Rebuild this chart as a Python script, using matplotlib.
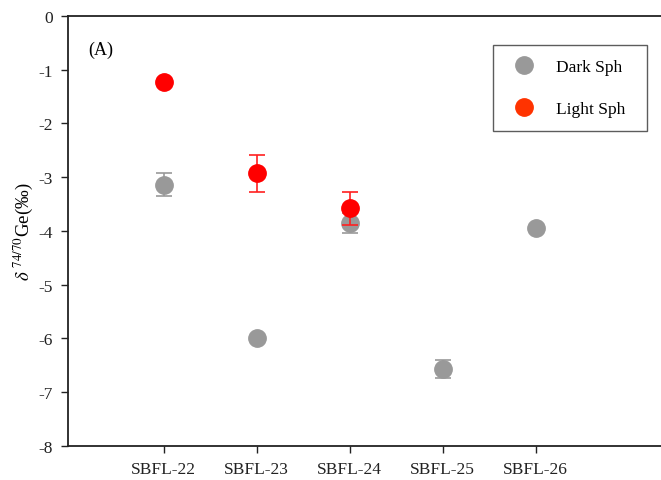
import numpy as np
import matplotlib.pyplot as plt
from matplotlib.lines import Line2D

plt.rcParams['font.family'] = ['Liberation Serif', 'DejaVu Serif']
plt.rcParams['mathtext.fontset'] = 'stix'

# data
samples = ['SBFL-22', 'SBFL-23', 'SBFL-24', 'SBFL-25', 'SBFL-26']
dark_val = [-3.14, -6.00, -3.85, -6.57, -3.95]
dark_err = [0.21, 0.0, 0.18, 0.17, 0.0]
light_samples = ['SBFL-22', 'SBFL-23', 'SBFL-24']
light_val = [-1.22, -2.93, -3.58]
light_err = [0.0, 0.34, 0.31]

x = np.arange(1, len(samples) + 1)
x_light = [samples.index(s) + 1 for s in light_samples]

fig = plt.figure(figsize=(6.61, 4.81), dpi=100)
ax = fig.add_axes([0.1029, 0.0707, 0.91, 0.894])

ax.errorbar(x, dark_val, yerr=dark_err, fmt='o', color='#999999', ecolor='#999999',
            markersize=12.5, capsize=6, elinewidth=1.2, capthick=1.2, zorder=3)
ax.errorbar(x_light, light_val, yerr=light_err, fmt='o', color='#ff0000', ecolor='#ff2020',
            markersize=12.5, capsize=6, elinewidth=1.2, capthick=1.2, zorder=4)

ax.set_ylim(-8, 0)
ax.set_xlim(-0.03, 6.44)
ax.set_xticks(x)
ax.set_xticklabels(samples)
ax.set_yticks(range(-8, 1))
ax.set_yticklabels([str(v) for v in range(-8, 1)])
ax.tick_params(direction='out', length=5, width=1, colors='#222222', labelsize=12.5, pad=6)
ax.tick_params(axis='x', pad=6)
for s in ax.spines.values():
    s.set_linewidth(1.3)
    s.set_color('#222222')
ax.spines['right'].set_visible(False)

ax.set_ylabel(r'$\delta$ $^{74/70}$Ge(‰)', fontsize=13.5, labelpad=2)
ax.text(0.033, 0.912, '(A)', transform=ax.transAxes, fontsize=13)

handles = [
    Line2D([], [], marker='o', linestyle='none', color='#999999', markersize=12.5),
    Line2D([], [], marker='o', linestyle='none', color='#ff3300', markersize=12.5),
]
leg = ax.legend(handles, ['Dark Sph', 'Light Sph'], loc='upper left',
                bbox_to_anchor=(0.7066, 0.735, 0.2563, 0.198), mode='expand',
                frameon=True, fancybox=False,
                fontsize=12.5, labelspacing=1.5, borderpad=0.8, handlelength=2.0,
                handletextpad=0.8, borderaxespad=0)
leg.get_frame().set_edgecolor('#333333')
leg.get_frame().set_linewidth(1.0)

fig.savefig('out.png', dpi=100)
